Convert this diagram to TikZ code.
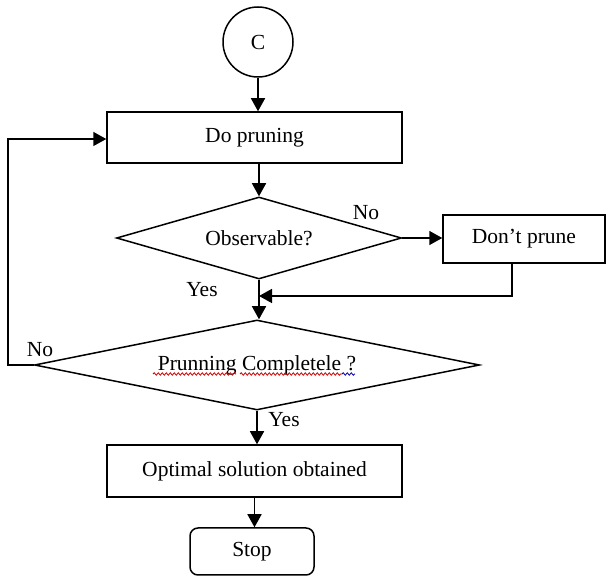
\documentclass[tikz,border=0pt]{standalone}
\usepackage{fontspec}
\setmainfont{Liberation Serif}
\usetikzlibrary{shapes.geometric,arrows.meta,decorations.pathmorphing}
\begin{document}
\begin{tikzpicture}[x=1pt,y=-1pt,line width=1.5pt,>={Triangle[length=13pt,width=14pt]},
    font=\fontsize{21.5}{25}\selectfont,
    box/.style={draw,rectangle,inner sep=0pt},
    decision/.style={draw,diamond,inner sep=0pt},
    squiggle/.style={decorate,decoration={snake,amplitude=1.2pt,segment length=4pt},line width=0.8pt}]
\useasboundingbox (0,0) rectangle (606,577);
% nodes
\node[draw,circle,minimum size=70pt,inner sep=0pt] (C) at (258,42) {C};
\node[box,minimum width=295pt,minimum height=51pt] (dopr) at (254.5,137.5) {Do pruning};
\node[decision,aspect=3.48,minimum width=285pt,minimum height=82pt] (obs) at (259,238) {Observable?};
\node[box,minimum width=162pt,minimum height=48pt] (dont) at (524,239) {Don’t prune};
\node[decision,aspect=4.94,minimum width=445pt,minimum height=90pt] (pc) at (257,365) {Prunning Completele ?};
\node[box,minimum width=295pt,minimum height=52pt] (opt) at (254.5,471) {Optimal solution obtained};
\node[box,rounded corners=8pt,minimum width=124pt,minimum height=47pt] (stop) at (252,551.5) {Stop};
% labels
\node (obsno) at (366,213) {No};
\node (obsyes) at (202,290) {Yes};
\node (pcno) at (40,350) {No};
\node (pcyes) at (284,420) {Yes};
% connectors
\coordinate (back) at (512,296);
\coordinate (loop) at (8,139);
\draw[->] (C) -- (C |- dopr.north);
\draw[->] (obs |- dopr.south) -- (obs.north);
\draw[->] (obs.east) -- (obs.east -| dont.west);
\draw[->] (back |- dont.south) -- (back) -- (back -| obs.south);
\draw[->] (obs.south) -- (obs.south |- pc.north);
\draw[->] (pc.west) -- (loop |- pc.west) -- (loop) -- (loop -| dopr.west);
\draw[->] (pc.south) -- (pc.south |- opt.north);
\draw[->] (opt.south) -- (opt.south |- stop.north);
% spelling marks
\draw[squiggle,red!80!black] (153,374) -- (236,374);
\draw[squiggle,red!80!black] (240,374) -- (342,374);
\draw[squiggle,blue!70!black] (342,374) -- (355,374);
\end{tikzpicture}
\end{document}
